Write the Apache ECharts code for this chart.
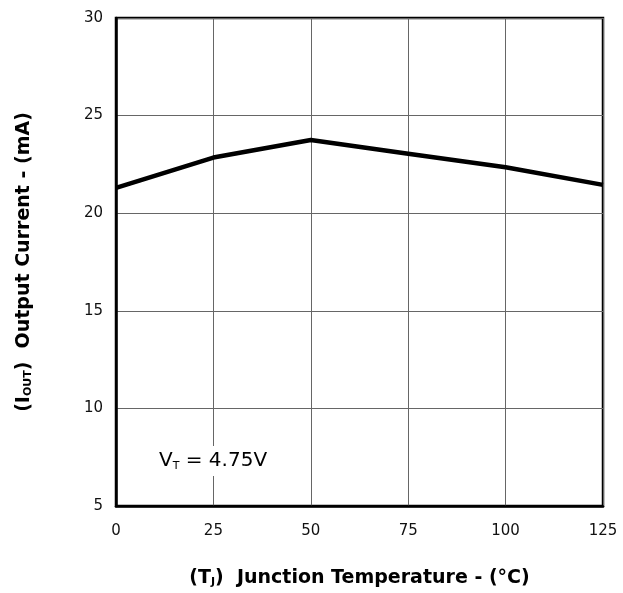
<!DOCTYPE html>
<html>
<head>
<meta charset="utf-8">
<script src="https://cdn.jsdelivr.net/npm/echarts@6/dist/echarts.min.js"></script>
<style>
  html, body { margin: 0; padding: 0; background: #fff; }
  #main { width: 623px; height: 593px; }
</style>
</head>
<body>
<div id="main"></div>
<script>
  // junction temperature (°C) vs output current (mA)
  var temps = [0, 25, 50, 75, 100, 125];
  var current = [21.3, 22.85, 23.75, 23.05, 22.35, 21.45];

  var data = temps.map(function (t, i) { return [t, current[i]]; });

  var titleRich = {
    a: { fontSize: 19, fontWeight: 'bold', color: '#000', fontFamily: 'DejaVu Sans' },
    s: { fontSize: 11, fontWeight: 'bold', color: '#000', fontFamily: 'DejaVu Sans', padding: [9, 0, 0, 0] }
  };

  var chart = echarts.init(document.getElementById('main'));
  var option = {
    backgroundColor: '#fff',
    animation: false,
    grid: {
      left: 116, top: 18, right: 20, bottom: 87,
      show: true, borderColor: '#000', borderWidth: 2.5
    },
    xAxis: {
      type: 'value',
      min: 0, max: 125, interval: 25,
      axisLine: { show: true, lineStyle: { color: '#000', width: 2.5 } },
      axisTick: { show: false },
      splitLine: { show: true, lineStyle: { color: '#666', width: 1 } },
      axisLabel: { color: '#111', fontSize: 15, margin: 18, fontFamily: 'DejaVu Sans' },
      name: '{a|(T}{s|J}{a|)  Junction Temperature - (°C)}',
      nameLocation: 'middle',
      nameGap: 62,
      nameTextStyle: { rich: titleRich }
    },
    yAxis: {
      type: 'value',
      min: 5, max: 30, interval: 5,
      axisLine: { show: true, lineStyle: { color: '#000', width: 2.5 } },
      axisTick: { show: false },
      splitLine: { show: true, lineStyle: { color: '#666', width: 1 } },
      axisLabel: { color: '#111', fontSize: 15, margin: 13, fontFamily: 'DejaVu Sans' },
      name: '{a|(I}{s|OUT}{a|)  Output Current - (mA)}',
      nameLocation: 'middle',
      nameGap: 82,
      nameTextStyle: { rich: titleRich }
    },
    graphic: [{
      type: 'text',
      left: 156,
      top: 446,
      z: 100,
      style: {
        text: '{a|V}{s|T}{a| = 4.75V}',
        backgroundColor: '#fff',
        padding: [4, 3, 4, 3],
        rich: {
          a: { fontSize: 20, fill: '#000', fontFamily: 'DejaVu Sans' },
          s: { fontSize: 11, fill: '#000', fontFamily: 'DejaVu Sans', padding: [11, 0, 0, 0] }
        }
      }
    }],
    series: [{
      type: 'line',
      data: data,
      symbol: 'none',
      lineStyle: { color: '#000', width: 4.5 }
    }]
  };
  chart.setOption(option);
</script>
</body>
</html>
